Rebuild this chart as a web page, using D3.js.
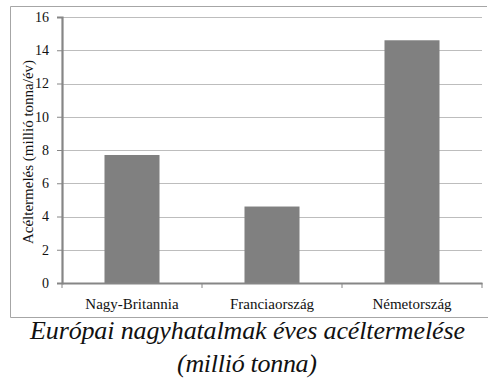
<!DOCTYPE html>
<html lang="hu">
<head>
<meta charset="UTF-8">
<title>Acéltermelés</title>
<script src="https://d3js.org/d3.v7.min.js"></script>
<style>
    body { margin: 0; background: #fff; }
    svg { display: block; }
    .tick text { font-family: "Liberation Serif", "DejaVu Serif", serif; fill: #111; }
</style>
</head>
<body>
<div id="chart"></div>
<script>
    // data
    var countries = ["Nagy-Britannia", "Franciaország", "Németország"];
    var steel = [7.7, 4.6, 14.6];
    var yTicks = [0, 2, 4, 6, 8, 10, 12, 14, 16];

    var serif = "'Liberation Serif', 'DejaVu Serif', serif";
    var W = 497, H = 383;
    var plot = { left: 62, right: 482, top: 17, bottom: 283 };

    var svg = d3.select("#chart").append("svg")
        .attr("width", W)
        .attr("height", H);

    // frame around chart (left, top, bottom)
    svg.append("path")
        .attr("d", "M487,6.5 H10.5 V317.5 H488")
        .attr("fill", "none")
        .attr("stroke", "#a6a6a6")
        .attr("stroke-width", 1);

    var x = d3.scaleBand()
        .domain(countries)
        .range([plot.left, plot.right])
        .paddingInner(0.607)
        .paddingOuter(0.3035);

    var y = d3.scaleLinear()
        .domain([0, 16])
        .range([plot.bottom, plot.top]);

    // gridlines
    svg.append("g")
        .selectAll("line")
        .data(yTicks.filter(function (d) { return d > 0; }))
        .enter()
        .append("line")
        .attr("x1", plot.left)
        .attr("x2", plot.right)
        .attr("y1", function (d) { return Math.round(y(d)) + 0.5; })
        .attr("y2", function (d) { return Math.round(y(d)) + 0.5; })
        .attr("stroke", "#bdbdbd")
        .attr("stroke-width", 1.2);

    // bars
    svg.append("g")
        .selectAll("rect")
        .data(countries)
        .enter()
        .append("rect")
        .attr("x", function (d) { return x(d); })
        .attr("width", x.bandwidth())
        .attr("y", function (d, i) { return y(steel[i]); })
        .attr("height", function (d, i) { return y(0) - y(steel[i]); })
        .attr("fill", "#808080");

    // y axis
    var yAxis = svg.append("g")
        .attr("transform", "translate(" + plot.left + ",0)")
        .call(d3.axisLeft(y).tickValues(yTicks).tickSize(5).tickPadding(8));
    yAxis.attr("font-family", serif);
    yAxis.select(".domain").attr("stroke", "#868686").attr("stroke-width", 2.2);
    yAxis.selectAll(".tick line").attr("stroke", "#868686");
    yAxis.selectAll(".tick text").style("font-size", "14px");

    // x axis with ticks at band edges
    var xAxis = svg.append("g")
        .attr("transform", "translate(0," + plot.bottom + ")")
        .call(d3.axisBottom(x).tickSize(0).tickPadding(15));
    xAxis.attr("font-family", serif);
    xAxis.select(".domain").attr("stroke", "#868686").attr("stroke-width", 2.2);
    xAxis.selectAll(".tick text").style("font-size", "15px");

    var step = x.step();
    xAxis.selectAll(".edge")
        .data(d3.range(countries.length + 1))
        .enter()
        .append("line")
        .attr("class", "edge")
        .attr("x1", function (i) { return plot.left + i * step; })
        .attr("x2", function (i) { return plot.left + i * step; })
        .attr("y1", 0)
        .attr("y2", 5)
        .attr("stroke", "#868686");

    // y axis title
    svg.append("text")
        .attr("transform", "translate(33,152) rotate(-90)")
        .attr("text-anchor", "middle")
        .attr("font-family", serif)
        .attr("font-size", 15)
        .attr("fill", "#111")
        .text("Acéltermelés (millió tonna/év)");

    // caption
    var caption = svg.append("g")
        .attr("font-family", serif)
        .attr("font-style", "italic")
        .attr("font-size", 26)
        .attr("fill", "#111")
        .attr("text-anchor", "middle");
    caption.append("text")
        .attr("x", 247.5)
        .attr("y", 339)
        .attr("textLength", 435)
        .attr("lengthAdjust", "spacing")
        .text("Európai nagyhatalmak éves acéltermelése");
    caption.append("text")
        .attr("x", 247)
        .attr("y", 372)
        .attr("textLength", 140)
        .attr("lengthAdjust", "spacing")
        .text("(millió tonna)");
</script>
</body>
</html>
